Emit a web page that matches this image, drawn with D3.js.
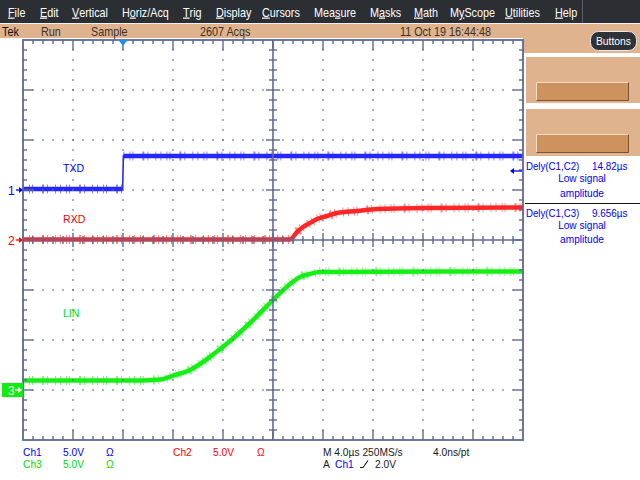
<!DOCTYPE html>
<html><head><meta charset="utf-8">
<script src="https://cdn.jsdelivr.net/npm/d3@7"></script>
<style>
body{margin:0;background:#fff}
svg{display:block}
text{font-family:"Liberation Sans",Arial,sans-serif}
</style>
</head><body>
<svg id="c" width="640" height="480"></svg>
<script>
// ---------------- DATA ----------------
const menuLabels = ["File","Edit","Vertical","Horiz/Acq","Trig","Display","Cursors","Measure","Masks","Math","MyScope","Utilities","Help"];
const menuUnderline = [0,0,0,1,0,0,0,3,1,0,1,0,0];
const statusLabels = ["Tek","Run","Sample","2607 Acqs","11 Oct 19 16:44:48"];

// time in microseconds (trigger at 0), 4 us/div, 10 divisions
const timeDomain = [-8, 32];
// Ch1 TXD (volts)
const txdTime = [-8, -0.03, 0.03, 32];
const txdVolts = [0.1, 0.1, 3.4, 3.4];
// Ch2 RXD (volts)
const rxdTime = [-8, 13.36, 13.92, 14.4, 14.96, 15.52, 16.32, 17.12, 18.72, 20.32, 24.56, 32];
const rxdVolts = [0.05, 0.05, 0.8, 1.3, 1.7, 2.1, 2.4, 2.7, 2.9, 3.1, 3.2, 3.25];
// Ch3 LIN (volts)
const linTime = [-8, 1.36, 2.96, 4.16, 5.36, 6.16, 7.36, 8.56, 10.16, 12.0, 13.36, 14.16, 14.96, 15.76, 32];
const linVolts = [0.95, 0.95, 1.05, 1.5, 2.0, 2.6, 3.7, 4.9, 6.7, 9.0, 10.6, 11.3, 11.6, 11.8, 11.85];

const channelNames = ["TXD","RXD","LIN"];
const voltsPerDiv = [5, 5, 5];
const channelOffsetDiv = [1, 0, -3];

const measureRows = [
  {name:"Dely(C1,C2)", value:"14.82µs", note1:"Low signal", note2:"amplitude"},
  {name:"Dely(C1,C3)", value:"9.656µs", note1:"Low signal", note2:"amplitude"}
];
const bottomRow1 = ["Ch1","5.0V","Ω","Ch2","5.0V","Ω","M 4.0µs 250MS/s","4.0ns/pt"];
const bottomRow2 = ["Ch3","5.0V","Ω","A","Ch1","2.0V"];

// ---------------- LAYOUT ----------------
const svg = d3.select("#c");
const L = 23, R = 523, T = 40, B = 440;
const x = d3.scaleLinear().domain(timeDomain).range([L, R]);
const xDiv = d3.scaleLinear().domain([0, 10]).range([L, R]);
const yDiv = d3.scaleLinear().domain([-4, 4]).range([B, T]);
const chY = i => v => yDiv(channelOffsetDiv[i] + v / voltsPerDiv[i]);

const tan = "#deb38e", gridC = "#5f6891";
const chColors = ["#2626ff", "#ff2626", "#14f014"];
const chText = ["#0000ff", "#ff0000", "#00e000"];

function txt(parent, s, xx, yy, size, fill, sx, anchor){
  return parent.append("text").attr("transform",`translate(${xx},${yy}) scale(${sx||1},1)`)
    .attr("font-size",size).attr("fill",fill).attr("text-anchor",anchor||"start").text(s);
}

// menu bar
svg.append("rect").attr("x",0).attr("y",0).attr("width",640).attr("height",23).attr("fill","#2b2e33");
svg.append("line").attr("x1",582.5).attr("x2",582.5).attr("y1",0).attr("y2",23).attr("stroke","#5a5e66");
const menuX = [8,40,72,122,183,216,262,314,370,414,450,505,555];
menuLabels.forEach((m,i)=>{
  const t = svg.append("text").attr("transform",`translate(${menuX[i]},16.5) scale(0.9,1)`).attr("fill","#fff").attr("font-size",12);
  const u = menuUnderline[i];
  if (u>0) t.append("tspan").text(m.slice(0,u));
  t.append("tspan").attr("text-decoration","underline").text(m[u]);
  t.append("tspan").text(m.slice(u+1));
});
svg.append("rect").attr("x",0).attr("y",23).attr("width",640).attr("height",1).attr("fill","#f0f0f0");
// status bar
svg.append("rect").attr("x",0).attr("y",24).attr("width",640).attr("height",14).attr("fill",tan);
const statusX = [2,41,91,200,400];
const statusC = ["#111","#3a3128","#3a3128","#3a3128","#3a3128"];
statusLabels.forEach((s,i)=>txt(svg,s,statusX[i],35.5,12,statusC[i],0.9));

// right panel
svg.append("rect").attr("x",R).attr("y",38).attr("width",640-R).attr("height",15).attr("fill",tan);
svg.append("rect").attr("x",590.5).attr("y",31.5).attr("width",46).attr("height",19).attr("rx",8)
  .attr("fill","#2f3236").attr("stroke","#e8e8e8").attr("stroke-width",1);
txt(svg,"Buttons",613.5,45,11.5,"#fff",0.9,"middle");
[[57,103,82],[109,156,134]].forEach(([y0,y1,by])=>{
  svg.append("rect").attr("x",526).attr("y",y0).attr("width",114).attr("height",y1-y0).attr("fill",tan);
  svg.append("rect").attr("x",536).attr("y",by).attr("width",93).attr("height",19).attr("fill","#cd925e");
  svg.append("path").attr("d",`M536.5,${by+18.5}V${by+0.5}H628.5`).attr("fill","none").attr("stroke","#f3dcc4");
  svg.append("path").attr("d",`M536.5,${by+18.5}H628.5V${by+0.5}`).attr("fill","none").attr("stroke","#7d532e");
});
measureRows.forEach((m,i)=>{
  const y0 = i===0 ? 169.5 : 216.5;
  const rowStep = i===0 ? [12.5, 27] : [12, 26.5];
  txt(svg,m.name,526,y0,11,"#0000ee",0.88);
  txt(svg,m.value,592,y0,11,"#0000ee",0.9);
  txt(svg,m.note1,582,y0+rowStep[0],11,"#0000ee",0.92,"middle");
  txt(svg,m.note2,582,y0+rowStep[1],11,"#0000ee",0.92,"middle");
});
svg.append("line").attr("x1",525).attr("x2",640).attr("y1",203.5).attr("y2",203.5).attr("stroke","#111");

// ---------------- TRACES ----------------
const traces = [[txdTime,txdVolts],[rxdTime,rxdVolts],[linTime,linVolts]];
const tg = svg.append("g");
traces.forEach(([ts,vs],i)=>{
  const pts = ts.map((t,k)=>[t,vs[k]]);
  const yy = chY(i);
  const line = d3.line().x(d=>x(d[0])).y(d=>yy(d[1])).curve(i===0?d3.curveLinear:d3.curveMonotoneX);
  if (i===0) {
    // fast edge drawn thin, flat parts drawn as a thick noisy band
    tg.append("path").datum(pts).attr("d",line).attr("fill","none").attr("stroke",chColors[i]).attr("stroke-width",1.6);
    for (let k=0;k<pts.length-1;k++){
      if (Math.abs(pts[k+1][0]-pts[k][0])<0.2) continue;
      const seg = [pts[k],pts[k+1]];
      tg.append("path").datum(seg).attr("d",line).attr("fill","none").attr("stroke",chColors[i])
        .attr("stroke-width",9).attr("opacity",0.55).attr("stroke-dasharray","1 5 1 2 1 9 2 3 1 7 1 4");
      tg.append("path").datum(seg).attr("d",line).attr("fill","none").attr("stroke",chColors[i]).attr("stroke-width",4.5);
    }
  } else {
    tg.append("path").datum(pts).attr("d",line).attr("fill","none").attr("stroke",chColors[i])
      .attr("stroke-width",9).attr("opacity",0.55).attr("stroke-dasharray","1 5 1 2 1 9 2 3 1 7 1 4");
    tg.append("path").datum(pts).attr("d",line).attr("fill","none").attr("stroke",chColors[i])
      .attr("stroke-width",4.5).attr("stroke-linejoin","bevel");
  }
});

// ---------------- GRATICULE ----------------
const gg = svg.append("g").attr("stroke",gridC).attr("fill","none");
const majorX = d3.range(1,10).filter(d=>d!==5);
const majorY = d3.range(-3,4).filter(d=>d!==0);
gg.selectAll(".vx").data(majorX).join("line").attr("x1",d=>xDiv(d)).attr("x2",d=>xDiv(d)).attr("y1",T).attr("y2",B)
  .attr("stroke-width",1.4).attr("stroke-dasharray","1.4 8.6").attr("stroke-dashoffset",0.7);
gg.selectAll(".hy").data(majorY).join("line").attr("y1",d=>yDiv(d)).attr("y2",d=>yDiv(d)).attr("x1",L).attr("x2",R)
  .attr("stroke-width",1.4).attr("stroke-dasharray","1.4 8.6").attr("stroke-dashoffset",0.7);
const minorX = d3.range(0,50).map(d=>d/5).slice(1);
const minorY = d3.range(-20,21).map(d=>d/5).slice(1,-1);
const isMajor = d=>Math.abs(d-Math.round(d))<1e-6;
minorX.forEach(d=>{
  const xx = xDiv(d), len = isMajor(d)?10:4;
  gg.append("line").attr("x1",xx).attr("x2",xx).attr("y1",T).attr("y2",T+len).attr("stroke-width",1.4);
  gg.append("line").attr("x1",xx).attr("x2",xx).attr("y1",B).attr("y2",B-len).attr("stroke-width",1.4);
  const cl = isMajor(d)?7:4;
  gg.append("line").attr("x1",xx).attr("x2",xx).attr("y1",yDiv(0)-cl).attr("y2",yDiv(0)+cl).attr("stroke-width",1.4);
});
minorY.forEach(d=>{
  const yy = yDiv(d), len = isMajor(d)?10:4;
  gg.append("line").attr("y1",yy).attr("y2",yy).attr("x1",L).attr("x2",L+len).attr("stroke-width",1.4);
  gg.append("line").attr("y1",yy).attr("y2",yy).attr("x1",R).attr("x2",R-len).attr("stroke-width",1.4);
  const cl = isMajor(d)?7:4;
  gg.append("line").attr("y1",yy).attr("y2",yy).attr("x1",xDiv(5)-cl).attr("x2",xDiv(5)+cl).attr("stroke-width",1.4);
});
gg.append("line").attr("x1",xDiv(5)).attr("x2",xDiv(5)).attr("y1",T).attr("y2",B).attr("stroke-width",1.6);
gg.append("line").attr("y1",yDiv(0)).attr("y2",yDiv(0)).attr("x1",L).attr("x2",R).attr("stroke-width",1.6);
gg.append("rect").attr("x",L).attr("y",T).attr("width",R-L).attr("height",B-T).attr("stroke-width",1.8);

// trigger position marker
svg.append("path").attr("d",`M${x(0)-4.5},${T}L${x(0)+4.5},${T}L${x(0)},${T+6}Z`).attr("fill","#1c8ef0");

// channel labels in plot
const labelPos = [[63,172],[63,223],[63,317]];
channelNames.forEach((n,i)=>txt(svg,n,labelPos[i][0],labelPos[i][1],11.5,chText[i],0.92));

// ground markers
const arrow = (g,xa,xb,y,c)=>{
  g.append("line").attr("x1",xa).attr("x2",xb-2).attr("y1",y).attr("y2",y).attr("stroke",c).attr("stroke-width",1.3);
  g.append("path").attr("d",`M${xb},${y}L${xb-4},${y-3}L${xb-4},${y+3}Z`).attr("fill",c);
};
const g1 = yDiv(channelOffsetDiv[0]), g2 = yDiv(channelOffsetDiv[1]), g3 = yDiv(channelOffsetDiv[2]);
txt(svg,"1",8,g1+4.5,12,chText[0]);
arrow(svg,16,L,g1,"#0000ff");
txt(svg,"2",8,g2+4.5,12,chText[1]);
arrow(svg,16,L,g2,"#ff0000");
svg.append("rect").attr("x",2).attr("y",g3-7).attr("width",21).attr("height",14).attr("fill","#10ee10");
txt(svg,"3",8,g3+4.5,12,"#fff");
arrow(svg,15,22,g3,"#fff");
// ch1 level arrow on right
svg.append("line").attr("x1",513).attr("x2",522).attr("y1",171).attr("y2",171).attr("stroke","#0000ff").attr("stroke-width",1.3);
svg.append("path").attr("d","M510,171L514,168L514,174Z").attr("fill","#0000ff");

// ---------------- BOTTOM READOUT ----------------
const b1x = [23,63,106,173,213,257,323,433];
const b1c = ["#0000ff","#0000ff","#0000ff","#ff0000","#ff0000","#ff0000","#1a1a1a","#1a1a1a"];
bottomRow1.forEach((s,i)=>txt(svg,s,b1x[i],456,11,b1c[i],0.93));
const b2x = [23,63,106,323,335,375];
const b2c = ["#00dd00","#00dd00","#00dd00","#1a1a1a","#0000ff","#1a1a1a"];
bottomRow2.forEach((s,i)=>txt(svg,s,b2x[i],468,11,b2c[i],0.93));
svg.append("path").attr("d","M360,467.5H363L368,460.5").attr("fill","none").attr("stroke","#1a1a1a").attr("stroke-width",1.1);
</script>
</body></html>
